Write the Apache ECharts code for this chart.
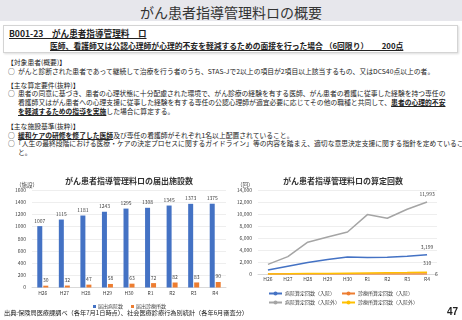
<!DOCTYPE html>
<html>
<head>
<meta charset="utf-8">
<script src="https://cdn.jsdelivr.net/npm/echarts@6/dist/echarts.min.js"></script>
<style>
  html, body { margin: 0; padding: 0; background: #fff; }
  body { width: 462px; height: 320px; position: relative; overflow: hidden;
         font-family: "Noto Sans CJK JP", sans-serif; color: #222; }
  .t { position: absolute; white-space: nowrap; }
  .b { font-weight: bold; text-decoration: underline; }
  #chart { position: absolute; left: 0; top: 0; width: 462px; height: 320px; }
</style>
</head>
<body>
<div class="t" style="left:0;top:0;width:462px;height:21px;background:#e7e7ec;"></div>
<div class="t" style="left:0;top:3px;width:462px;text-align:center;font-size:14px;line-height:18px;color:#333;">がん患者指導管理料ロの概要</div>

<div class="t" style="left:3px;top:25px;width:453px;height:26px;border:1px solid #d4d4d4;box-shadow:1px 1px 2px #ddd;"></div>
<div class="t b" style="left:9px;top:28px;font-size:8.6px;line-height:10px;">B001-23　がん患者指導管理料　ロ</div>
<div class="t b" style="left:50px;top:41px;font-size:7.8px;line-height:10px;">医師、看護師又は公認心理師が心理的不安を軽減するための面接を行った場合 （6回限り）　　 200点</div>

<div id="body" style="font-size:6.8px;line-height:8px;">
  <div class="t" style="left:7px;top:58px;">【対象患者(概要)】</div>
  <div class="t" style="left:8px;top:67px;">○</div>
  <div class="t" style="left:18px;top:67px;">がんと診断された患者であって継続して治療を行う者のうち、STAS-Jで2以上の項目が2項目以上該当するもの、又はDCS40点以上の者。</div>
  <div class="t" style="left:7px;top:81px;">【主な算定要件(抜粋)】</div>
  <div class="t" style="left:8px;top:89px;">○</div>
  <div class="t" style="left:18px;top:89px;">患者の同意に基づき、患者の心理状態に十分配慮された環境で、がん診療の経験を有する医師、がん患者の看護に従事した経験を持つ専任の</div>
  <div class="t" style="left:18px;top:98px;">看護師又はがん患者への心理支援に従事した経験を有する専任の公認心理師が適宜必要に応じてその他の職種と共同して、<span class="b">患者の心理的不安</span></div>
  <div class="t" style="left:18px;top:107px;"><span class="b">を軽減するための指導を実施</span>した場合に算定する。</div>
  <div class="t" style="left:7px;top:122px;">【主な施設基準(抜粋)】</div>
  <div class="t" style="left:8px;top:131px;">○</div>
  <div class="t" style="left:18px;top:131px;"><span class="b">緩和ケアの研修を修了した医師</span>及び専任の看護師がそれぞれ1名以上配置されていること。</div>
  <div class="t" style="left:8px;top:139px;">○</div>
  <div class="t" style="left:15px;top:139px;">「人生の最終段階における医療・ケアの決定プロセスに関するガイドライン」等の内容を踏まえ、適切な意思決定支援に関する指針を定めているこ</div>
  <div class="t" style="left:18px;top:148px;">と。</div>
</div>

<div id="chart"></div>

<div class="t" style="left:4px;top:309px;font-size:6.2px;line-height:8px;">出典:保険局医療課調べ（各年7月1日時点）、社会医療診療行為別統計（各年6月審査分）</div>
<div class="t" style="left:447px;top:305px;font-size:10px;line-height:14px;font-weight:bold;font-family:'Liberation Sans',sans-serif;">47</div>

<script>
// 年度
const years = ['H26', 'H27', 'H28', 'H29', 'H30', 'R1', 'R2', 'R3', 'R4'];
// 届出施設数
const hospitalFacilities = [1007, 1115, 1181, 1243, 1295, 1308, 1345, 1373, 1375];
const clinicFacilities = [30, 32, 47, 58, 63, 72, 82, 83, 90];
// 算定回数
const hospitalInpatient = [650, 1300, 1900, 2400, 2850, 2750, 2800, 2950, 3199];
const clinicInpatient = [0, 1, 1, 2, 2, 3, 4, 5, 6];
const hospitalOutpatient = [1600, 2900, 5300, 6150, 7000, 9900, 9300, 10800, 11993];
const clinicOutpatient = [20, 40, 70, 100, 140, 180, 220, 260, 310];
// 軸の目盛 [min, max, interval]
const facilityTicks = [0, 1600, 200];
const countTicks = [0, 14000, 2000];

const font = '"Noto Sans CJK JP", sans-serif';
const labelColor = '#404040';
const comma = v => String(v).replace(/\B(?=(\d{3})+(?!\d))/g, ',');

// 最後の点だけラベルを表示
function lastLabel(values, label) {
  return values.map((v, i) => i === values.length - 1 ? { value: v, label: Object.assign({ show: true }, label) } : v);
}

function lineSeries(name, values, color, label) {
  return {
    name: name,
    type: 'line',
    xAxisIndex: 1,
    yAxisIndex: 1,
    symbol: 'circle',
    symbolSize: 0,
    showSymbol: true,
    lineStyle: { width: 1.5, color: color },
    itemStyle: { color: color },
    label: { show: false, fontSize: 5, color: labelColor, fontFamily: font },
    data: lastLabel(values, label)
  };
}

const myChart = echarts.init(document.getElementById('chart'), null, { renderer: 'canvas' });

let option = {
  animation: false,
  textStyle: { fontFamily: font },
  title: [
    { text: 'がん患者指導管理料ロの届出施設数', left: 124, top: 172, textAlign: 'center',
      textStyle: { fontSize: 8, fontWeight: 'bold', color: '#333', fontFamily: font } },
    { text: 'がん患者指導管理料ロの算定回数', left: 338, top: 172, textAlign: 'center',
      textStyle: { fontSize: 8, fontWeight: 'bold', color: '#333', fontFamily: font } },
    { text: '（施設）', left: 11, top: 177, textStyle: { fontSize: 5.5, fontWeight: 'normal', color: labelColor, fontFamily: font } },
    { text: '（回）', left: 232, top: 177, textStyle: { fontSize: 5.5, fontWeight: 'normal', color: labelColor, fontFamily: font } }
  ],
  legend: [
    { data: ['届出病院数', '届出診療所数'], left: 88, top: 299, icon: 'rect', itemWidth: 3, itemHeight: 3,
      itemGap: 8, selectedMode: false, textStyle: { fontSize: 5, color: labelColor, padding: [0, 0, 0, -3] } },
    { data: ['病院算定回数（入院）', '病院算定回数（入院外）'], orient: 'vertical', left: 263, top: 286,
      itemWidth: 13, itemHeight: 5, itemGap: 4, selectedMode: false,
      textStyle: { fontSize: 5, color: labelColor, padding: [0, 0, 0, -2] } },
    { data: ['診療所算定回数（入院）', '診療所算定回数（入院外）'], orient: 'vertical', left: 336, top: 286,
      itemWidth: 13, itemHeight: 5, itemGap: 4, selectedMode: false,
      textStyle: { fontSize: 5, color: labelColor, padding: [0, 0, 0, -2] } }
  ],
  grid: [
    { left: 32, right: 236, top: 190, bottom: 32.5 },
    { left: 258, right: 25, top: 190, bottom: 46 }
  ],
  xAxis: [
    { type: 'category', gridIndex: 0, data: years,
      axisLine: { lineStyle: { color: '#d9d9d9' } }, axisTick: { show: false },
      axisLabel: { fontSize: 5, color: labelColor, margin: 3 } },
    { type: 'category', gridIndex: 1, data: years,
      axisLine: { lineStyle: { color: '#d9d9d9' } }, axisTick: { show: false },
      axisLabel: { fontSize: 5, color: labelColor, margin: 3 } }
  ],
  yAxis: [
    { type: 'value', gridIndex: 0, min: facilityTicks[0], max: facilityTicks[1], interval: facilityTicks[2],
      splitLine: { lineStyle: { color: '#e3e3e3', width: 0.6 } },
      axisLabel: { fontSize: 5, color: labelColor, margin: 6, formatter: v => String(v) } },
    { type: 'value', gridIndex: 1, min: countTicks[0], max: countTicks[1], interval: countTicks[2],
      splitLine: { lineStyle: { color: '#e3e3e3', width: 0.6 } },
      axisLabel: { fontSize: 5, color: labelColor, margin: 6, formatter: comma } }
  ],
  series: [
    { name: '届出病院数', type: 'bar', xAxisIndex: 0, yAxisIndex: 0, data: hospitalFacilities,
      barWidth: 5, barGap: '20%', itemStyle: { color: '#4472C4' },
      label: { show: true, position: 'top', distance: 3, fontSize: 5, color: labelColor, formatter: p => String(p.value) } },
    { name: '届出診療所数', type: 'bar', xAxisIndex: 0, yAxisIndex: 0, data: clinicFacilities,
      barWidth: 5, itemStyle: { color: '#ED7D31' },
      label: { show: true, position: 'top', distance: 3, fontSize: 5, color: labelColor } },
    lineSeries('病院算定回数（入院）', hospitalInpatient, '#4472C4', { position: 'top', distance: 5, formatter: p => comma(p.value) }),
    lineSeries('診療所算定回数（入院）', clinicInpatient, '#ED7D31', { position: 'right', distance: 8 }),
    lineSeries('病院算定回数（入院外）', hospitalOutpatient, '#A5A5A5', { position: 'top', distance: 5, formatter: p => comma(p.value) }),
    lineSeries('診療所算定回数（入院外）', clinicOutpatient, '#FFC000', { position: 'top', distance: 7 })
  ]
};
myChart.setOption(option);
</script>
</body>
</html>
